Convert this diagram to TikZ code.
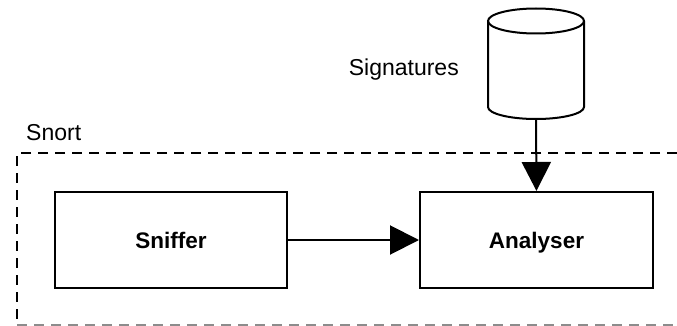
\documentclass[tikz,border=0pt]{standalone}
\usepackage{fontspec}
\setmainfont{Liberation Sans}
\usetikzlibrary{arrows.meta}
\tikzset{
  blk/.style={draw, line width=2pt, minimum width=232pt, minimum height=96pt, inner sep=0pt, text height=16.5pt, text depth=0pt, font=\fontsize{22.5}{26}\selectfont\bfseries},
  lbl/.style={inner sep=0pt, font=\fontsize{23}{27}\selectfont},
  conn/.style={line width=2pt, -{Triangle[length=29pt,width=29pt]}},
  dsh/.style={line width=2pt, dash pattern=on 10pt off 7pt}
}
\begin{document}
\begin{tikzpicture}[x=1pt,y=-1pt]
\useasboundingbox (0,0) rectangle (677,326);
% Snort dashed boundary
\draw[dsh] (677,153) -- (17,153) -- (17,325);
\draw[dsh, draw=black!45] (17,325) -- (677,325);
\node[lbl, anchor=base west] (snort) at (26,140) {Snort};
% boxes
\node[blk] (sniffer) at (171,240) {Sniffer};
\node[blk, minimum width=233pt] (analyser) at (536.5,240) {Analyser};
% cylinder
\node[minimum width=96pt, minimum height=111pt, inner sep=0pt] (sig) at (536,64) {};
\draw[line width=2pt, fill=white] (488,21) -- (488,107) arc[start angle=180, end angle=0, x radius=48, y radius=12] -- (584,21) arc[start angle=0, end angle=-180, x radius=48, y radius=12.5] -- cycle;
\draw[line width=2pt] (488,21) arc[start angle=180, end angle=0, x radius=48, y radius=12.5];
\node[lbl, anchor=east] (siglbl) at (459,70) {Signatures};
% connectors
\draw[conn] (sniffer.east) -- (analyser.west);
\draw[conn] (sig.south) -- (analyser.north);
\end{tikzpicture}
\end{document}
